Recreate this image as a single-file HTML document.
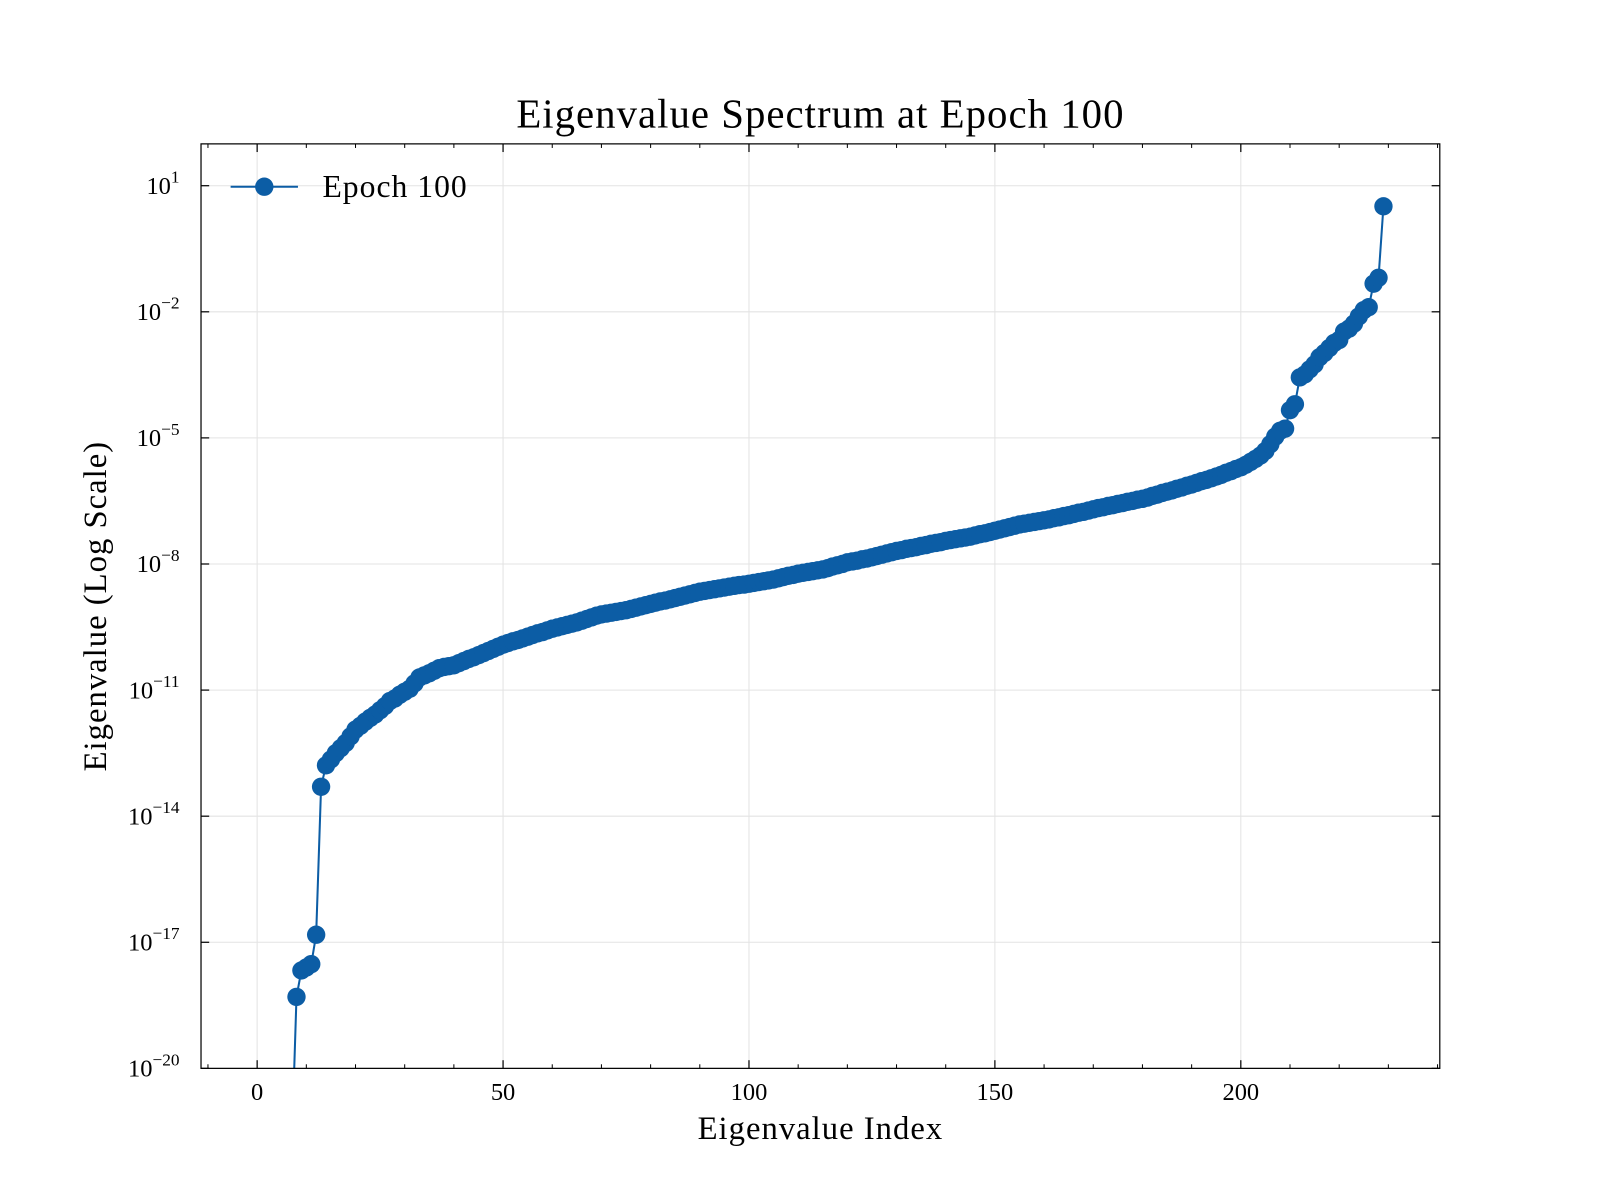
<!DOCTYPE html>
<html><head><meta charset="utf-8"><style>
body{margin:0;background:#fff}
svg{display:block;font-family:"Liberation Serif",serif}
</style></head><body>
<svg id="chart" width="1600" height="1200" viewBox="0 0 1568 1176" xmlns="http://www.w3.org/2000/svg">
<text x="804" y="125" font-size="40" letter-spacing="1" text-anchor="middle">Eigenvalue Spectrum at Epoch 100</text>
<text x="804" y="1116" font-size="32" letter-spacing="1" text-anchor="middle">Eigenvalue Index</text>
<text transform="translate(104,594) rotate(-90)" font-size="32" letter-spacing="1" text-anchor="middle">Eigenvalue (Log Scale)</text>
<defs><clipPath id="pc"><rect x="197" y="141" width="1214" height="906"/></clipPath></defs>
<g id="grid"></g>
<g id="series" clip-path="url(#pc)"></g>
<rect x="197" y="141" width="1214" height="906" fill="none" stroke="#000" stroke-width="1.2"/>
<g id="ticks"></g>
<g>
<line x1="226" y1="183" x2="292" y2="183" stroke="#0C5DA5" stroke-width="2"/>
<circle cx="259" cy="183" r="9" fill="#0C5DA5"/>
<text x="316" y="193" font-size="31" letter-spacing="1">Epoch 100</text>
</g>
</svg>
<script>
const logValues=[-22,-22,-22,-22,-22,-22,-22,-22,
-18.3,-17.67,-17.6,-17.52,-16.82,-13.3,
-12.79,-12.65,-12.5,-12.38,-12.26,-12.1,-11.94,
-11.85,-11.75,-11.66,-11.58,-11.48,-11.38,-11.26,-11.2,-11.11,-11.04,
-10.97,-10.84,-10.7,-10.65,-10.6,-10.54,-10.48,-10.45,-10.43,-10.41,
-10.36,-10.31,-10.26,-10.22,-10.17,-10.12,-10.07,-10.02,-9.97,-9.92,
-9.88,-9.84,-9.81,-9.77,-9.73,-9.69,-9.65,-9.62,-9.58,-9.54,
-9.51,-9.48,-9.45,-9.42,-9.39,-9.35,-9.31,-9.27,-9.23,-9.2,
-9.18,-9.16,-9.14,-9.12,-9.1,-9.07,-9.04,-9.01,-8.98,-8.95,
-8.92,-8.89,-8.87,-8.84,-8.81,-8.78,-8.75,-8.72,-8.69,-8.66,
-8.64,-8.62,-8.6,-8.58,-8.56,-8.54,-8.52,-8.5,-8.49,-8.47,
-8.45,-8.43,-8.41,-8.39,-8.37,-8.34,-8.31,-8.28,-8.26,-8.23,
-8.21,-8.19,-8.17,-8.15,-8.13,-8.1,-8.06,-8.03,-8,-7.96,
-7.94,-7.92,-7.89,-7.87,-7.84,-7.81,-7.78,-7.75,-7.72,-7.69,
-7.67,-7.64,-7.62,-7.6,-7.57,-7.55,-7.52,-7.5,-7.48,-7.45,
-7.43,-7.41,-7.39,-7.37,-7.35,-7.32,-7.29,-7.27,-7.24,-7.21,
-7.18,-7.15,-7.12,-7.09,-7.06,-7.04,-7.02,-7,-6.98,-6.96,
-6.94,-6.91,-6.89,-6.86,-6.84,-6.81,-6.78,-6.76,-6.73,-6.7,
-6.67,-6.65,-6.62,-6.6,-6.57,-6.55,-6.52,-6.5,-6.47,-6.45,
-6.42,-6.38,-6.35,-6.31,-6.28,-6.25,-6.21,-6.18,-6.14,-6.11,
-6.07,-6.03,-6,-5.96,-5.92,-5.88,-5.83,-5.79,-5.74,-5.7,
-5.64,-5.57,-5.5,-5.42,-5.31,-5.15,-4.97,-4.83,-4.78,-4.34,
-4.2,-3.56,-3.49,-3.37,-3.25,-3.08,-2.98,-2.86,-2.74,-2.67,
-2.47,-2.4,-2.28,-2.11,-1.96,-1.89,-1.33,-1.19,0.51];
const xTicks=[0,50,100,150,200];
const yTicks=[1,-2,-5,-8,-11,-14,-17,-20];
const NS="http://www.w3.org/2000/svg";
const X0=197,X1=1411,Y0=141,Y1=1047;
function xs(i){return 252+(i-0)*(1216-252)/200;}
function ys(l){return 182+(1-l)*(1047-182)/21;}
function mk(t,a,p){const e=document.createElementNS(NS,t);for(const k in a)e.setAttribute(k,a[k]);p.appendChild(e);return e;}
const grid=document.getElementById('grid'),ticks=document.getElementById('ticks'),ser=document.getElementById('series');
xTicks.forEach(v=>{const x=xs(v);
 const g=mk('line',{x1:x,x2:x,y1:Y0,y2:Y1,stroke:'#e3e3e3','stroke-width':1},grid);
 
 mk('line',{x1:x,x2:x,y1:Y1,y2:Y1-8,stroke:'#000','stroke-width':1.2},ticks);
 mk('line',{x1:x,x2:x,y1:Y0,y2:Y0+8,stroke:'#000','stroke-width':1.2},ticks);
 const t=mk('text',{x:x,y:1078,'font-size':24,'text-anchor':'middle'},ticks);t.textContent=v;
 });
for(let v=-10;v<=240;v+=10){if(v%50===0)continue;const x=xs(v);if(x<X0||x>X1)continue;
 mk('line',{x1:x,x2:x,y1:Y1,y2:Y1-4,stroke:'#000','stroke-width':1},ticks);
 mk('line',{x1:x,x2:x,y1:Y0,y2:Y0+4,stroke:'#000','stroke-width':1},ticks);}
yTicks.forEach(v=>{const y=ys(v);
 const g=mk('line',{x1:X0,x2:X1,y1:y,y2:y,stroke:'#e3e3e3','stroke-width':1},grid);
 
 mk('line',{x1:X0,x2:X0+8,y1:y,y2:y,stroke:'#000','stroke-width':1.2},ticks);
 mk('line',{x1:X1,x2:X1-8,y1:y,y2:y,stroke:'#000','stroke-width':1.2},ticks);
 const t=mk('text',{x:176,y:y+8,'font-size':24,'text-anchor':'end'},ticks);
 
 const a=mk('tspan',{},t);a.textContent='10';
 const b=mk('tspan',{dy:-11,'font-size':17},t);b.textContent=(v<0?'\u2212'+(-v):v);});
const pts=logValues.map((l,i)=>xs(i)+','+ys(l)).join(' ');
const pl=mk('polyline',{points:pts,fill:'none',stroke:'#0C5DA5','stroke-width':2},ser);

logValues.forEach((l,i)=>{const c=mk('circle',{cx:xs(i),cy:ys(l),r:9,fill:'#0C5DA5'},ser);
 });
</script>
</body></html>
